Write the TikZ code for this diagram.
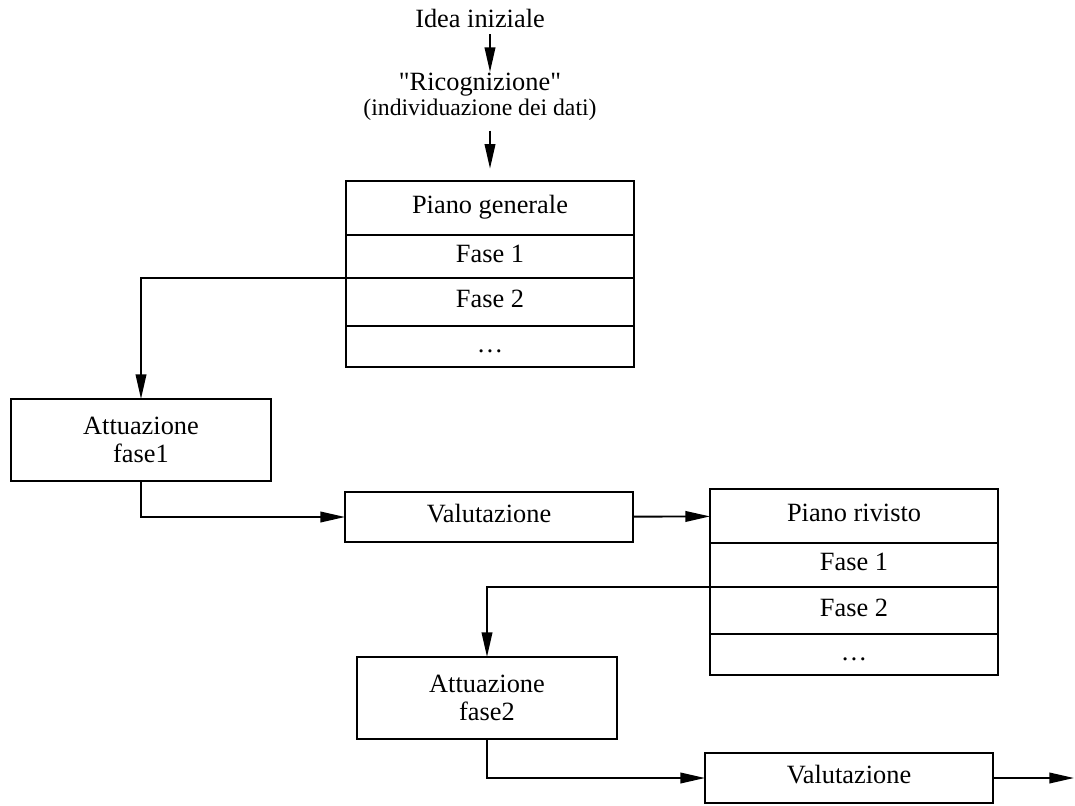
\documentclass[tikz,border=0pt]{standalone}
\usepackage{fontspec}
\setmainfont{Liberation Serif}
\usetikzlibrary{arrows.meta, positioning}

\begin{document}
\begin{tikzpicture}[x=0.02cm, y=-0.02cm, line width=1.1pt,
    >={Triangle[length=14pt, width=6pt]},
    every node/.style={font=\fontsize{15}{16}\selectfont},
    box/.style={draw, align=center, inner sep=0pt, outer sep=0pt, minimum width=5.2cm, minimum height=1.64cm},
    cell/.style={draw, inner sep=0pt, outer sep=0pt, minimum width=5.76cm, text height=0.85em, text depth=0.2em}]
    \useasboundingbox (0,0) rectangle (1075,805);

    \node                                          (Idea)          at (480,18)  {Idea iniziale};
    \node[align=center, inner sep=0pt,
          font=\fontsize{15}{14.5}\selectfont]     (Ricognizione)  at (480,97)  {\textquotedbl Ricognizione\textquotedbl\\{\fontsize{13.5}{14.5}\selectfont(individuazione dei dati)}};

    \node[cell, minimum height=1.08cm]             (Piano A)       at (490,208) {Piano generale};
    \node[cell, minimum height=0.86cm, below=0pt of Piano A] (Fase A1) {Fase 1};
    \node[cell, minimum height=0.96cm, below=0pt of Fase A1] (Fase A2) {Fase 2};
    \node[cell, minimum height=0.82cm, below=0pt of Fase A2] (Dots A)  {…};

    \node[box]                                     (Attuazione 1)  at (141,440) {Attuazione\\fase1};
    \node[cell, minimum height=1.0cm]              (Valutazione 1) at (489,517) {Valutazione};

    \node[cell, minimum height=1.08cm]             (Piano B)       at (854,516) {Piano rivisto};
    \node[cell, minimum height=0.88cm, below=0pt of Piano B] (Fase B1) {Fase 1};
    \node[cell, minimum height=0.94cm, below=0pt of Fase B1] (Fase B2) {Fase 2};
    \node[cell, minimum height=0.82cm, below=0pt of Fase B2] (Dots B)  {…};

    \node[box]                                     (Attuazione 2)  at (487,698) {Attuazione\\fase2};
    \node[cell, minimum height=1.0cm]              (Valutazione 2) at (849,778) {Valutazione};
    \coordinate                                    (Fine)          at (1074,778);

    \draw[->] (Idea.south -| Piano A.north) -- (Ricognizione.north -| Piano A.north);
    \draw[->, shorten <=5pt, shorten >=7pt] (Ricognizione.south -| Piano A.north) -- (Piano A.north);
    \draw[->] (Fase A2.north west) -| (Attuazione 1.north);
    \draw[->] (Attuazione 1.south) |- (Valutazione 1.west);
    \draw[->] (Valutazione 1) -- (Piano B);
    \draw[->] (Fase B2.north west) -| (Attuazione 2.north);
    \draw[->] (Attuazione 2.south) |- (Valutazione 2.west);
    \draw[->] (Valutazione 2) -- (Fine);
\end{tikzpicture}
\end{document}
